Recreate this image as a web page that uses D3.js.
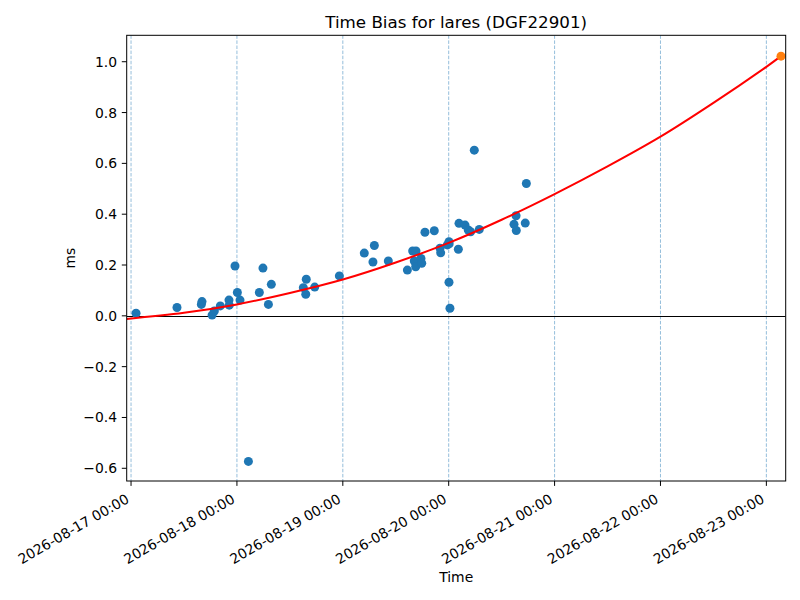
<!DOCTYPE html>
<html>
<head>
<meta charset="utf-8">
<script src="https://cdn.jsdelivr.net/npm/d3@7"></script>
<style>
  html, body { margin: 0; padding: 0; background: #fff; }
  svg { display: block; font-family: "DejaVu Sans", sans-serif; }
</style>
</head>
<body>
<svg id="chart" width="800" height="600"></svg>
<script>
// ---- data ----
const obsTimes = [
  "2026-08-17 01:08","2026-08-17 10:25","2026-08-17 15:56","2026-08-17 16:05","2026-08-17 18:22",
  "2026-08-17 18:53","2026-08-17 20:14","2026-08-17 22:12","2026-08-17 22:16","2026-08-17 23:34",
  "2026-08-18 00:06","2026-08-18 00:42","2026-08-18 02:36","2026-08-18 05:05","2026-08-18 05:54",
  "2026-08-18 07:08","2026-08-18 07:48","2026-08-18 15:03","2026-08-18 15:36","2026-08-18 15:43",
  "2026-08-18 17:38","2026-08-18 23:13","2026-08-19 04:52","2026-08-19 06:50","2026-08-19 07:09",
  "2026-08-19 10:19","2026-08-19 14:38","2026-08-19 15:50","2026-08-19 16:12","2026-08-19 16:31",
  "2026-08-19 16:35","2026-08-19 17:43","2026-08-19 17:53","2026-08-19 18:37","2026-08-19 20:44",
  "2026-08-19 22:02","2026-08-19 22:11","2026-08-19 23:41","2026-08-20 00:04","2026-08-20 00:04",
  "2026-08-20 00:06","2026-08-20 00:17","2026-08-20 02:11","2026-08-20 02:20","2026-08-20 03:42",
  "2026-08-20 04:26","2026-08-20 04:58","2026-08-20 05:48","2026-08-20 06:56","2026-08-20 14:48",
  "2026-08-20 15:16","2026-08-20 15:19","2026-08-20 17:21","2026-08-20 17:36"
];
const obsValues = [
  0.010, 0.033, 0.045, 0.056, 0.003,
  0.019, 0.039, 0.062, 0.042, 0.196,
  0.092, 0.062, -0.573, 0.092, 0.188,
  0.045, 0.124, 0.111, 0.085, 0.144,
  0.113, 0.157, 0.247, 0.212, 0.277,
  0.216, 0.180, 0.255, 0.216, 0.193,
  0.255, 0.226, 0.207, 0.329, 0.335,
  0.266, 0.248, 0.279, 0.292, 0.132,
  0.283, 0.030, 0.262, 0.364, 0.357,
  0.338, 0.331, 0.652, 0.340, 0.360,
  0.394, 0.336, 0.365, 0.521
];
const fitTimes = [
  "2026-08-16 23:01","2026-08-17 12:00","2026-08-18 00:00","2026-08-18 12:00","2026-08-19 00:00",
  "2026-08-19 12:00","2026-08-20 00:00","2026-08-20 12:00","2026-08-21 00:00","2026-08-21 12:00",
  "2026-08-22 00:00","2026-08-22 12:00","2026-08-23 00:00","2026-08-23 03:19"
];
const fitValues = [
  -0.012, 0.012, 0.045, 0.090, 0.143,
  0.210, 0.287, 0.378, 0.479, 0.588,
  0.705, 0.838, 0.980, 1.022
];
const predTime = ["2026-08-23 03:19"];
const predValue = [1.022];
const xTickLabels = [
  "2026-08-17 00:00","2026-08-18 00:00","2026-08-19 00:00","2026-08-20 00:00",
  "2026-08-21 00:00","2026-08-22 00:00","2026-08-23 00:00"
];
const yTickValues = [-0.6, -0.4, -0.2, 0.0, 0.2, 0.4, 0.6, 0.8, 1.0];
const xDomain = ["2026-08-16 23:01", "2026-08-23 04:23"];
const yDomain = [-0.65, 1.104];
const titleText = "Time Bias for lares (DGF22901)";
const xLabel = "Time";
const yLabel = "ms";

// ---- drawing ----
const parse = d3.utcParse("%Y-%m-%d %H:%M");
const svg = d3.select("#chart");
const m = { left: 126.7, right: 785.7, top: 35.3, bottom: 481 };

const x = d3.scaleUtc().domain(xDomain.map(parse)).range([m.left, m.right]);
const y = d3.scaleLinear().domain(yDomain).range([m.bottom, m.top]);

svg.append("defs").append("clipPath").attr("id", "clip")
  .append("rect").attr("x", m.left).attr("y", m.top)
  .attr("width", m.right - m.left).attr("height", m.bottom - m.top);

const plot = svg.append("g").attr("clip-path", "url(#clip)");

// vertical dashed grid lines at day ticks
const tickDates = xTickLabels.map(parse);
plot.selectAll("line.vgrid").data(tickDates).enter().append("line")
  .attr("class", "vgrid")
  .attr("x1", d => x(d)).attr("x2", d => x(d))
  .attr("y1", m.top).attr("y2", m.bottom)
  .attr("stroke", "#1f77b4").attr("stroke-width", 0.6)
  .attr("stroke-opacity", 0.8)
  .attr("stroke-dasharray", "3.5,1.6");

// zero line
plot.append("line")
  .attr("x1", m.left).attr("x2", m.right)
  .attr("y1", Math.round(y(0)) + 0.5).attr("y2", Math.round(y(0)) + 0.5)
  .attr("stroke", "#000").attr("stroke-width", 1);

// scatter
const obs = obsTimes.map((t, i) => ({ t: parse(t), v: obsValues[i] }));
plot.selectAll("circle.obs").data(obs).enter().append("circle")
  .attr("class", "obs")
  .attr("cx", d => x(d.t)).attr("cy", d => y(d.v))
  .attr("r", 4.5).attr("fill", "#1f77b4");

// fit line
const fit = fitTimes.map((t, i) => ({ t: parse(t), v: fitValues[i] }));
plot.append("path").datum(fit)
  .attr("d", d3.line().x(d => x(d.t)).y(d => y(d.v)).curve(d3.curveCatmullRom))
  .attr("fill", "none").attr("stroke", "red").attr("stroke-width", 2);

// predicted point
const pred = predTime.map((t, i) => ({ t: parse(t), v: predValue[i] }));
svg.selectAll("circle.pred").data(pred).enter().append("circle")
  .attr("class", "pred")
  .attr("cx", d => x(d.t)).attr("cy", d => y(d.v))
  .attr("r", 4.5).attr("fill", "#ff7f0e");

// frame
svg.append("rect")
  .attr("x", m.left).attr("y", m.top)
  .attr("width", m.right - m.left).attr("height", m.bottom - m.top)
  .attr("fill", "none").attr("stroke", "#000").attr("stroke-width", 1);

// x axis ticks
const xAxis = svg.append("g");
xAxis.selectAll("line").data(tickDates).enter().append("line")
  .attr("x1", d => x(d)).attr("x2", d => x(d))
  .attr("y1", m.bottom).attr("y2", m.bottom + 4.9)
  .attr("stroke", "#000").attr("stroke-width", 1);
xAxis.selectAll("text").data(tickDates).enter().append("text")
  .attr("transform", d => `translate(${x(d) - 1.0},${m.bottom + 20.8}) rotate(-30)`)
  .attr("text-anchor", "end")
  .attr("font-size", 13.9)
  .attr("fill", "#000")
  .text((d, i) => xTickLabels[i]);

// y axis ticks
const yAxis = svg.append("g");
const yFmt = v => d3.format(".1f")(v).replace("-", "\u2212");
yAxis.selectAll("line").data(yTickValues).enter().append("line")
  .attr("x1", m.left - 4.9).attr("x2", m.left)
  .attr("y1", d => y(d)).attr("y2", d => y(d))
  .attr("stroke", "#000").attr("stroke-width", 1);
yAxis.selectAll("text").data(yTickValues).enter().append("text")
  .attr("x", m.left - 9.7).attr("y", d => y(d))
  .attr("dy", "0.36em")
  .attr("text-anchor", "end")
  .attr("font-size", 13.9)
  .attr("fill", "#000")
  .text(d => yFmt(d));

// labels
svg.append("text")
  .attr("x", (m.left + m.right) / 2).attr("y", 28)
  .attr("text-anchor", "middle").attr("font-size", 16.7).attr("fill", "#000")
  .text(titleText);
svg.append("text")
  .attr("x", (m.left + m.right) / 2).attr("y", 582)
  .attr("text-anchor", "middle").attr("font-size", 13.9).attr("fill", "#000")
  .text(xLabel);
svg.append("text")
  .attr("transform", `translate(75,${(m.top + m.bottom) / 2}) rotate(-90)`)
  .attr("text-anchor", "middle").attr("font-size", 13.9).attr("fill", "#000")
  .text(yLabel);
</script>
</body>
</html>
